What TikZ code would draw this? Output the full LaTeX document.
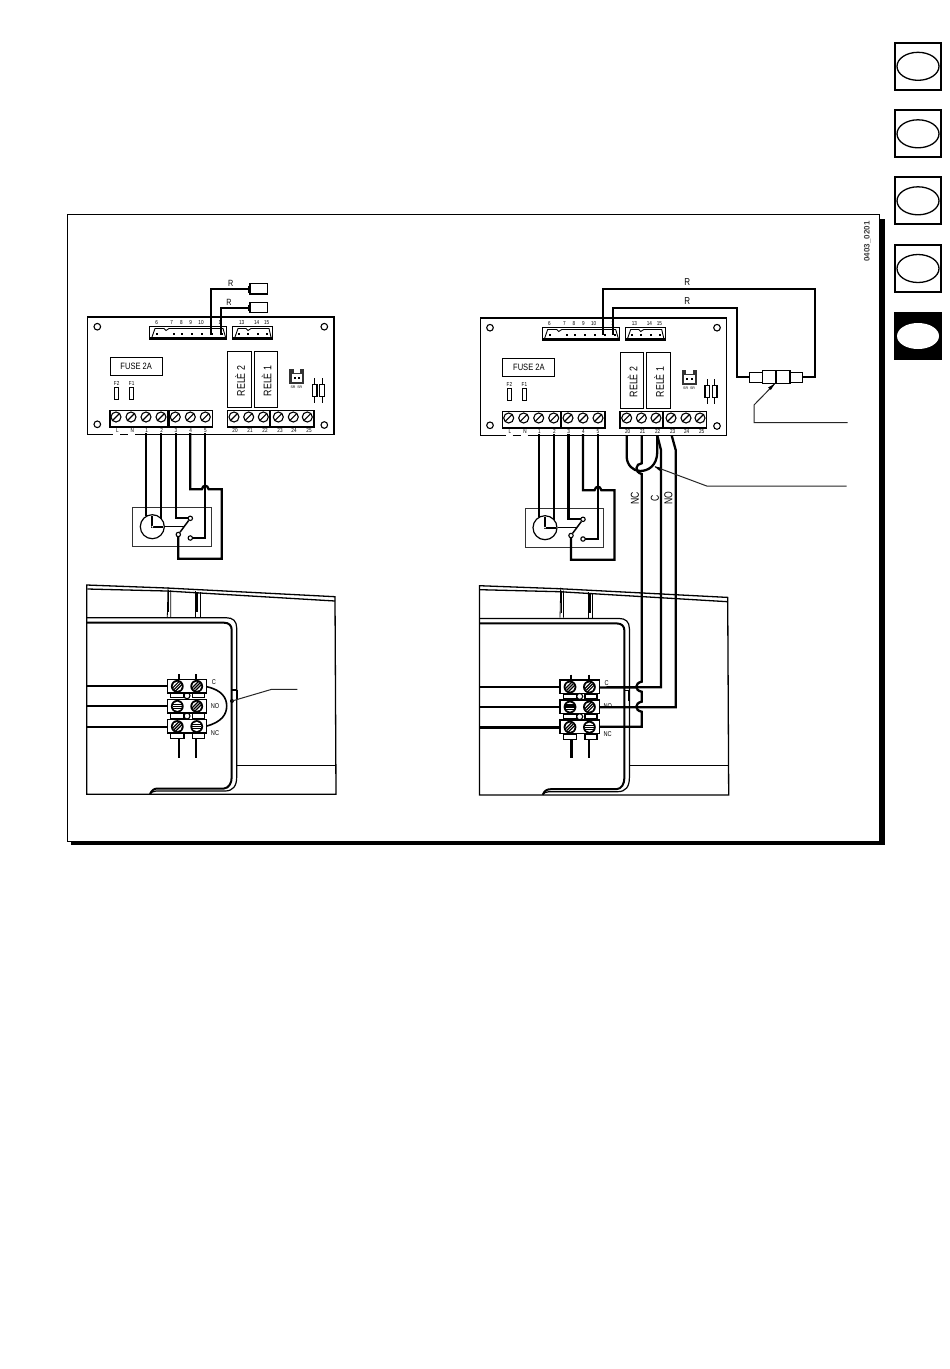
\documentclass[tikz,border=0pt]{standalone}
\usepackage{fontspec}
\setmainfont{Liberation Sans}
\newcommand\fsz[1]{\fontsize{#1}{#1}\selectfont}
\newcommand\nar[2][.8]{\scalebox{#1}[1]{#2}}
\tikzset{
  wire/.style={line width=2.3pt,line join=miter},
  med line/.style={line width=1.3pt},
  lab/.style={inner sep=0pt,font=\fsz{5.8}},
  contact/.style={draw,line width=1.1pt,fill=white,circle,inner sep=0pt,minimum size=4.4pt},
  lead/.style={line width=1pt,black!85},
}
% small terminal screw of the board
\newcommand\tscrew[3]{%
  \node[draw,line width=1.1pt,circle,inner sep=0pt,minimum size=10pt] (#1) at (#2,#3) {};
  \draw[line width=1.1pt] (#2-3.4,#3+3.4) -- (#2+3.4,#3-3.4);
}
% big screw of the terminal strip
\newcommand\bscrew[3]{%
  \fill (#1,#2) circle (6.4);
  \fill[white] (#1,#2) circle (4.6);
  \begin{scope}[rotate around={#3:(#1,#2)}]
    \fill (#1-4.6,#2-2.7) rectangle (#1+4.6,#2-1.5);
    \fill (#1-4.6,#2-.6) rectangle (#1+4.6,#2+.6);
    \fill (#1-4.6,#2+1.5) rectangle (#1+4.6,#2+2.7);
  \end{scope}
}
% control board with timer wiring
\newcommand\board{%
  \draw[line width=1.3pt] (145,434.7) -- (334,434.7) -- (334,317) -- (87.5,317) -- (87.5,434.7) -- (113,434.7);
  \draw[line width=1.3pt] (120,434.7) -- (128,434.7) (135,434.7) -- (145,434.7);
  \foreach \hx/\hy in {97.3/326.7,324.3/326.7,97.3/424.3,324.3/425}
    \draw[line width=1.1pt] (\hx,\hy) circle (3.3);
  % connectors
  \draw[line width=1pt] (149.3,326.7) rectangle (226.7,339);
  \draw[line width=.9pt] (152,337) -- (155,328.5) -- (164,328.5) -- (166,330.5) -- (169,328.5) -- (223,328.5) -- (225.5,337);
  \draw[line width=1.9pt] (149.3,338) -- (226.7,338);
  \foreach \px in {156,173,181,191,201,211,221} \fill (\px,332.6) rectangle +(2.4,2.4);
  \draw[line width=1pt] (232.7,326.7) rectangle (272.7,339);
  \draw[line width=.9pt] (235,337) -- (238,328.5) -- (246,328.5) -- (248,330.5) -- (251,328.5) -- (269,328.5) -- (271,337);
  \draw[line width=1.9pt] (232.7,338) -- (272.7,338);
  \foreach \px in {238,247,257,266} \fill (\px,332.6) rectangle +(2.4,2.4);
  \foreach \nm/\px/\tx in {c6/156.7/6,c7/171.7/7,c8/181.3/8,c9/190.7/9,c10/201/10,c11/220/1,c13/241.7/13,c14/256.7/14,c15/266.7/15}
    \node[lab] (\nm) at (\px,322.5) {\nar{\tx}};
  % fuse
  \node[draw,line width=1.1pt,minimum width=52pt,minimum height=18pt,inner sep=0pt] (fuse) at (136.2,366.3) {\fsz{9.2}\nar[.82]{FUSE 2A}};
  \node[lab] (f2) at (116.7,383) {\nar{F2}};
  \node[lab] (f1) at (131.7,383) {\nar{F1}};
  \draw[line width=1pt] (114.7,387.3) rectangle (118.7,399);
  \draw[line width=1pt] (129.7,387.3) rectangle (133.7,399);
  % relays
  \node[draw,line width=1.1pt,minimum width=23.7pt,minimum height=56.4pt,inner sep=0pt] (rel2) at (239.2,379.5) {};
  \node[draw,line width=1.1pt,minimum width=23.7pt,minimum height=56.4pt,inner sep=0pt] (rel1) at (265.9,379.5) {};
  \node[rotate=90,inner sep=0pt] at (240,381) {\fsz{11}\nar[.8]{RELÈ 2}};
  \node[rotate=90,inner sep=0pt] at (266.5,381) {\fsz{11}\nar[.8]{RELÈ 1}};
  % jumper socket
  \fill[black!80] (289.3,368.7) rectangle (304,384);
  \fill[white] (291.5,373.5) rectangle (301.8,381.5);
  \fill[white] (293.5,368.7) rectangle (299.8,372.5);
  \fill (293.5,376.5) rectangle +(2,2);
  \fill (298,376.5) rectangle +(2,2);
  \node[lab,font=\fsz{3.6}] (jp1) at (293,387) {SR};
  \node[lab,font=\fsz{3.6}] (jp2) at (299.8,387) {SR};
  % two components
  \draw[line width=.9pt] (314.7,378) -- (314.7,403) (322,378) -- (322,403);
  \draw[line width=1.1pt,fill=white] (312.3,384.3) rectangle (317,396.7);
  \draw[line width=1.1pt,fill=white] (319.7,384.3) rectangle (324.3,396.7);
  % terminal blocks
  \draw[line width=1.1pt] (110,410.3) rectangle (167.7,427);
  \draw[line width=1.1pt] (169,410.3) rectangle (212.3,427);
  \draw[line width=1.7pt] (168.3,410.3) -- (168.3,427);
  \draw[line width=1.1pt] (227.3,410.3) rectangle (270,427);
  \draw[line width=1.1pt] (270.7,410.3) rectangle (314,427);
  \draw[line width=1.7pt] (270.3,410.3) -- (270.3,427);
  \tscrew{s1}{116}{417}\tscrew{s2}{131}{417}\tscrew{s3}{146}{417}\tscrew{s4}{161}{417}
  \tscrew{s5}{175.3}{417}\tscrew{s6}{190.3}{417}\tscrew{s7}{205.3}{417}
  \tscrew{s20}{234}{417}\tscrew{s21}{248.7}{417}\tscrew{s22}{263.3}{417}
  \tscrew{s23}{278.3}{417}\tscrew{s24}{293.3}{417}\tscrew{s25}{307.3}{417}
  \foreach \nm/\px/\tx in {lL/117.3/L,lN/132.3/N,l1/146.7/1,l2/161.7/2,l3/176/3,l4/190.7/4,l5/205.3/5,l20/235/20,l21/250/21,l22/265/22,l23/280/23,l24/294/24,l25/309/25}
    \node[lab] (\nm) at (\px,430.5) {\nar{\tx}};
  % timer housing
  \draw[line width=1pt,black!80] (132.7,507.3) rectangle (211,546);
  \node[draw,line width=1.2pt,circle,fill=white,inner sep=0pt,minimum size=24pt] (clock) at (152.3,526.7) {};
  \draw[line width=2.1pt] (152.3,516) -- (152.3,526.7) -- (163,526.7);
  \fill[white] (152.3,526.7) circle (1);
  \draw[line width=1.1pt] (clock.east) -- (183.5,526.7);
  % timer wires
  \coordinate (t1) at (146.3,433); \coordinate (t2) at (161,433);
  \coordinate (t3) at (175.7,433); \coordinate (t4) at (190.3,433);
  \coordinate (t5) at (205.3,433);
  \draw[wire] (t1) -- (146.3,516);
  \draw[wire] (t2) -- (161,519);
  \draw[wire] (t3) -- (175.7,518.3) -- (190.3,518.3);
  \draw[wire] (t5) -- (205.3,538) -- (190.3,538);
  \draw[wire] (t4) -- (190.3,489.3) -- (201.8,489.3) .. controls (203,484.5) and (207.5,484.5) .. (208.7,489.3) -- (221.7,489.3) -- (221.7,558.7) -- (178.3,558.7) -- (178.3,534.5);
  \node[contact] (ca) at (190.3,518.3) {};
  \node[contact] (cb) at (178.3,534.5) {};
  \node[contact] (cc) at (190.3,538) {};
  \draw[line width=1.5pt] (cb) -- (ca);
}
% enclosure with terminal strip
\newcommand\housing{%
  \draw[med line] (86.7,585) -- (166.7,588) -- (335,596.7) -- (336,794.3) -- (86.7,794.3) -- cycle;
  \draw[med line] (87.3,589) -- (166.7,591) -- (335,601);
  % tabs
  \draw[line width=.8pt] (167.3,617) -- (168,587) (170.7,617) -- (170.7,590);
  \draw[line width=1.6pt] (168.6,590) -- (168.6,612);
  \draw[line width=.8pt] (195.7,617) -- (195.7,591) (200,617) -- (200,592);
  \draw[line width=1.6pt] (197,592) -- (197,612);
  % channel
  \draw[line width=1.2pt] (87,617.7) -- (226,617.7) .. controls (233,617.7) and (236.7,621) .. (236.7,628) -- (236.7,777) .. controls (236.7,786) and (233,791) .. (225,791) -- (156,791) .. controls (153,791) and (151,792.5) .. (150,794);
  \draw[line width=2pt] (87,622.7) -- (224,622.7) .. controls (229,622.7) and (231.7,625.5) .. (231.7,630) -- (231.7,777) .. controls (231.7,783) and (229,788) .. (224,788.5) -- (158,788.5) .. controls (154,788.5) and (152,790) .. (150,794);
  \draw[line width=2pt] (236.7,690) -- (236.7,700);
  \draw[med line] (236.7,690) -- (231.7,690);
  \draw[line width=.9pt] (236.7,765) -- (336,765);
  % strip wires
  \foreach \ty in {686.3,706.3,726.7} \draw[wire] (87,\ty) -- (167.3,\ty);
  % strip
  \foreach \ty in {679.3,699.3,719.3} \draw[line width=1.2pt,fill=white] (167.3,\ty) rectangle (206.7,\ty+13.6);
  \foreach \ty in {693.3,713.6,733.8}{
    \draw[line width=1.1pt,fill=white] (170.7,\ty) rectangle (184,\ty+4.6);
    \draw[line width=1.1pt,fill=white] (192.3,\ty) rectangle (204.3,\ty+4.6);
  }
  \draw[line width=1.1pt] (187,695.7) circle (3) (187,716) circle (3);
  \foreach \tx in {178.7,196} {
    \draw[line width=2pt] (\tx,674) -- (\tx,679.3);
    \draw[line width=2.3pt] (\tx,738.4) -- (\tx,757.7);
  }
  \bscrew{177.3}{686.3}{45}\bscrew{196.7}{686.3}{45}
  \bscrew{177.3}{706.3}{0}\bscrew{196.7}{706.3}{45}
  \bscrew{177.3}{726.5}{45}\bscrew{196.7}{726.5}{0}
  \coordinate (pC) at (206.7,686.7);
  \coordinate (pNO) at (206.7,706.5);
  \coordinate (pNC) at (206.7,726);
  \node[lab,font=\fsz{7}] (lC) at (214,682) {\nar{C}};
  \node[lab,font=\fsz{7}] (lNO) at (215,705.7) {\nar{NO}};
  \node[lab,font=\fsz{7}] (lNC) at (215,733) {\nar{NC}};
}
\begin{document}
\begin{tikzpicture}[x=1pt,y=-1pt]
\useasboundingbox (0,0) rectangle (950,1369);
\fill[white] (0,0) rectangle (950,1369);
% frame + shadow
\fill (71,219) rectangle (884.5,845);
\draw[line width=.7pt,fill=white] (67,214) rectangle (879.5,841);
\node[rotate=90,inner sep=0pt,text=black!75] (code) at (867.3,241.5) {\fsz{8}\bfseries 0403\_0201};
% side tabs
\foreach \nm/\cy in {a/66.3,b/133.8,c/200.8,d/268.5}{
  \draw[line width=1.8pt] (895,\cy-23.5) rectangle (941,\cy+23.5);
  \draw[line width=1.3pt] (918,\cy) ellipse (21 and 14);
}
\fill (894.3,312) rectangle (941.7,360);
\fill[white] (918,336) ellipse (21 and 13);
% left board
\begin{scope}[name prefix=L-]
  \board
\end{scope}
\draw[wire] (211,335) -- (211,289) -- (248.3,289);
\draw[wire] (221,335) -- (221,307.7) -- (248.3,307.7);
\node[draw,line width=1.2pt,minimum width=17.7pt,minimum height=10.7pt,inner sep=0pt] (term1) at (258.8,288.7) {};
\node[draw,line width=1.2pt,minimum width=17.7pt,minimum height=10.7pt,inner sep=0pt] (term2) at (258.8,307.5) {};
\draw[line width=2.8pt] (249,285.5) -- (249,292.5) (249,304.5) -- (249,311);
\node[inner sep=0pt] (rA) at (230.7,283.5) {\fsz{9}\nar{R}};
\node[inner sep=0pt] (rB) at (229,302.5) {\fsz{9}\nar{R}};
% left housing
\begin{scope}[name prefix=L-]
  \housing
\end{scope}
\draw[line width=1.6pt] (L-pC) .. controls (222,690) and (226.7,698) .. (226.7,706) .. controls (226.7,714) and (222,722) .. (L-pNC);
\coordinate (ldot) at (232,701);
\fill (ldot) circle (2);
\coordinate (lbend) at (271.7,689.3);
\coordinate (lend) at (297.3,689.3);
\draw[lead] (ldot) -- (lbend) -- (lend);
% right board
\begin{scope}[shift={(392.7,1)},name prefix=R-]
  \board
\end{scope}
\draw[wire] (603.3,335) -- (603.3,289.3) -- (815,289.3) -- (815,377.3) -- (802.3,377.3);
\draw[wire] (613.3,335) -- (613.3,308.3) -- (736.7,308.3) -- (736.7,377.3) -- (749.3,377.3);
\node[inner sep=0pt] (rC) at (687.3,282) {\fsz{10}\nar{R}};
\node[inner sep=0pt] (rD) at (687.3,301.5) {\fsz{10}\nar{R}};
\draw[line width=1.1pt] (749.3,372.3) rectangle (762.3,382.7);
\draw[line width=1.1pt] (790,372.3) rectangle (802.3,382.7);
\draw[line width=1.1pt] (762.3,370.7) rectangle (776,383.3);
\draw[line width=1.1pt] (776,370.7) rectangle (790,383.3);
% right housing
\begin{scope}[shift={(392.7,.7)},name prefix=R-]
  \housing
\end{scope}
% relay wiring
\coordinate (j20) at (626.7,435.5); \coordinate (j21) at (641.7,435.5);
\coordinate (j22) at (657.3,435.5); \coordinate (j23) at (671.7,435.5);
\draw[wire] (j20) -- (626.7,457) .. controls (627,465) and (633,471) .. (640,471) .. controls (648,471) and (657,466) .. (657.3,452) -- (j22);
\draw[wire] (j22) -- (661,450) -- (661,687.3) -- (R-pC);
\draw[wire] (j23) -- (675.7,450) -- (675.7,707.3) -- (R-pNO);
\draw[wire] (j21) -- (641.7,463.3) .. controls (635.5,463.5) and (634,472) .. (641.7,474) -- (641.7,681.7)
  .. controls (634.5,683) and (634.5,690.5) .. (641.7,691.7) -- (641.7,701.7)
  .. controls (634.5,703) and (634.5,710.5) .. (641.7,711.7) -- (641.7,726.7) -- (R-pNC);
\node[rotate=90,inner sep=0pt] (tNC) at (635,498.3) {\fsz{11.5}\nar[.75]{NC}};
\node[rotate=90,inner sep=0pt] (tC) at (655,498.3) {\fsz{11.5}\nar[.75]{C}};
\node[rotate=90,inner sep=0pt] (tNO) at (668.3,498) {\fsz{11.5}\nar[.75]{NO}};
% leaders
\coordinate (a1) at (774.5,384); \coordinate (a1b) at (754,405);
\coordinate (a1c) at (754,422.7); \coordinate (a1d) at (847.7,422.7);
\draw[lead] (a1) -- (a1b) -- (a1c) -- (a1d);
\fill (774.8,383.6) -- (768.2,387.5) -- (770.8,390) -- cycle;
\coordinate (a2) at (655,466.7); \coordinate (a2b) at (706.7,486); \coordinate (a2c) at (846.7,486);
\draw[lead] (a2) -- (a2b) -- (a2c);
\fill (654.5,466.5) -- (660.8,467.6) -- (659.5,470.8) -- cycle;
\end{tikzpicture}
\end{document}
